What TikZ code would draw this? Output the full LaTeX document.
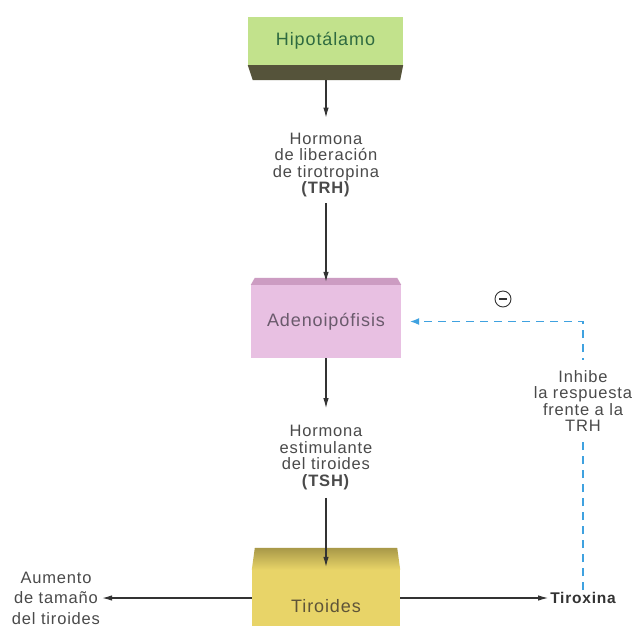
\documentclass[tikz,border=0pt]{standalone}
\usepackage{fontspec}
\setmainfont{Liberation Sans}[LetterSpace=5]
\usetikzlibrary{arrows.meta,calc}
\definecolor{hipof}{HTML}{C2E28C}
\definecolor{hipob}{HTML}{55533A}
\definecolor{hipot}{HTML}{2E6A40}
\definecolor{adenof}{HTML}{E8C0E2}
\definecolor{adenob}{HTML}{CC9CC2}
\definecolor{adenot}{HTML}{6A5A6C}
\definecolor{tirf}{HTML}{E8D468}
\definecolor{tirtop}{HTML}{A89848}
\definecolor{tirt}{HTML}{5E5438}
\definecolor{txt}{HTML}{4A4A4A}
\definecolor{arrowc}{HTML}{333333}
\definecolor{fbblue}{HTML}{3FA2E0}
\begin{document}
\begin{tikzpicture}[x=1pt,y=-1pt,
  box/.style={inner sep=0pt, font=\fontsize{18}{18}\selectfont},
  lbl/.style={align=center, text=txt, inner sep=2pt, font=\fontsize{16.5}{16.5}\selectfont},
  conn/.style={draw=arrowc, line width=1.1pt, -{Latex[length=10pt,width=5.5pt]}},
  fb/.style={draw=fbblue, line width=1.2pt, dash pattern=on 8pt off 6pt, -{Latex[length=9pt,width=7pt]}}]
\useasboundingbox (0,0) rectangle (635,630);
\fill[white] (0,0) rectangle (635,630);

% Hipotalamo
\node[box, fill=hipof, minimum width=155pt, minimum height=48pt, text=hipot] (hipo) at (325.5,41) {Hipotálamo};
\fill[hipob] (hipo.south west) -- (hipo.south east) -- ++(-3,15) -- ($(hipo.south west)+(5,15)$) -- cycle;
\coordinate (hipobot) at ($(hipo.south)+(0.5,15)$);

% TRH
\node[lbl] (trh) at (326,165) {Hormona\\de liberación\\de tirotropina\\\textbf{(TRH)}};

% Adenoipofisis
\node[box, fill=adenof, minimum width=150pt, minimum height=73pt, text=adenot] (adeno) at (326,321.5) {Adenoipófisis};
\fill[adenob] (adeno.north west) -- ++(4,-7) -- ($(adeno.north east)+(-4,-7)$) -- (adeno.north east) -- cycle;

% TSH
\node[lbl] (tsh) at (326,457.5) {Hormona\\estimulante\\del tiroides\\\textbf{(TSH)}};

% Tiroides
\node[box, fill=tirf, minimum width=148pt, minimum height=56pt] (tir) at (326,598) {};
\shade[top color=tirtop, bottom color=tirf] (tir.north west) -- ++(3,-22) -- ($(tir.north east)+(-3,-22)$) -- (tir.north east) -- cycle;
\node[box, text=tirt] (tirlbl) at (326,606) {Tiroides};

% side labels
\node[lbl, font=\fontsize{16.5}{20.5}\selectfont] (aum) at (56,598) {Aumento\\de tamaño\\del tiroides};
\node[lbl, text=arrowc, font=\fontsize{15.5}{15.5}\bfseries\selectfont] (tirox) at (583,598) {Tiroxina};

% main arrows
\draw[conn, shorten >=13pt] (hipobot) -- (trh.north);
\draw[conn, shorten <=4pt] (trh.south) -- ($(adeno.north)+(0,-3)$);
\draw[conn, shorten >=15pt] (adeno.south) -- (tsh.north);
\draw[conn, shorten <=6pt] (tsh.south) -- ($(tir.north)+(0,-3)$);
\draw[conn] (tir.west) -- (aum.east);
\draw[conn] (tir.east) -- (tirox.west);

% feedback
\draw[fb, shorten >=9pt] (tirox.north) |- (adeno.east);
\node[lbl, fill=white, inner ysep=10pt] (inh) at (583,401) {Inhibe\\la respuesta\\frente a la\\TRH};
\node[circle, draw=arrowc, line width=0.9pt, minimum size=16pt, inner sep=0pt,
  path picture={\draw[arrowc, line width=1.1pt] ([xshift=-4pt]path picture bounding box.center) -- ([xshift=4pt]path picture bounding box.center);}] (minus) at (503,299) {};
\end{tikzpicture}
\end{document}
